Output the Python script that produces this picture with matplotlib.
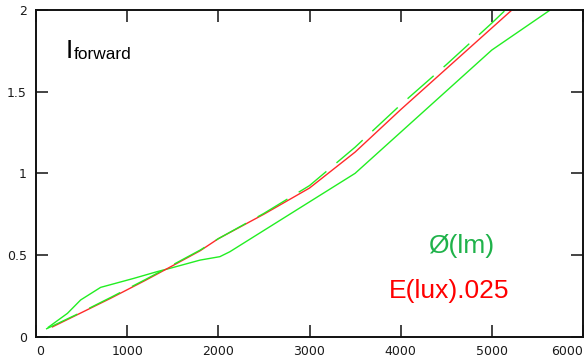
import matplotlib
matplotlib.use("Agg")
import matplotlib.pyplot as plt

# Luminous flux curve, Ø(lm)
flux_x = [128, 345, 490, 709, 1072, 1327, 1472, 1800, 2017, 2126, 3500, 5000, 5640]
flux_y = [0.055, 0.143, 0.225, 0.302, 0.357, 0.398, 0.419, 0.469, 0.49, 0.52, 1.0, 1.755, 2.0]

# Illuminance curve, E(lux)*.025
lux_x = [180, 472, 818, 1200, 1500, 1800, 2000, 2500, 3000, 3500, 4000, 4500, 5000, 5220]
lux_y = [0.06, 0.14, 0.235, 0.345, 0.435, 0.526, 0.60, 0.75, 0.91, 1.13, 1.39, 1.64, 1.89, 2.0]

# Second flux trace, drawn dashed
flux2_x = [110, 472, 818, 1200, 1500, 1800, 2000, 2500, 3000, 3500, 4000, 4500, 5000, 5150]
flux2_y = [0.047, 0.143, 0.24, 0.35, 0.44, 0.53, 0.60, 0.755, 0.925, 1.16, 1.42, 1.665, 1.92, 2.0]

x_ticks = [0, 1000, 2000, 3000, 4000, 5000, 6000]
y_ticks = [0, 0.5, 1, 1.5, 2]
y_tick_labels = ["0", "0.5", "1", "1.5", "2"]

fig = plt.figure(figsize=(5.87, 3.63), dpi=100)
ax = fig.add_axes([36 / 587, 1 - 336.7 / 363, (583 - 36) / 587, (336.7 - 10) / 363])

ax.plot(flux_x, flux_y, color="#22ee22", lw=1.0, solid_capstyle="butt")
ax.plot(lux_x, lux_y, color="#ff2a2a", lw=1.0)
ax.plot(flux2_x, flux2_y, color="#22ee22", lw=1.0, dashes=(25, 9.5))

ax.set_xlim(0, 6000)
ax.set_ylim(0, 2)

ax.set_xticks(x_ticks)
ax.set_xticklabels([str(v) for v in x_ticks])
ax.set_yticks(y_ticks)
ax.set_yticklabels(y_tick_labels)

ax.tick_params(axis="both", direction="in", length=8.6, width=1.1,
               labelsize=9, labelcolor="#1a1a1a", color="#111111",
               top=True, right=True)
ax.tick_params(axis="x", pad=6)
ax.tick_params(axis="y", pad=6.5)

# keep the end labels of the x axis inside the figure
xlabels = ax.get_xticklabels()
xlabels[0].set_horizontalalignment("left")
xlabels[-1].set_horizontalalignment("right")

for side in ["left", "bottom", "top", "right"]:
    ax.spines[side].set_linewidth(1.4)
    ax.spines[side].set_color("#111111")

sans = ["Liberation Sans", "DejaVu Sans"]
ax.text(320, 1.706, "I", fontsize=19, family=sans, color="black", va="baseline")
ax.text(412, 1.70, "forward", fontsize=12.4, family=sans, color="black", va="baseline")
ax.text(4304, 0.512, "Ø(lm)", fontsize=19, family=sans, color="#1fb24a", va="baseline")
ax.text(3871, 0.235, "E(lux).025", fontsize=19, family=sans, color="#ff0000", va="baseline")

fig.savefig("out.png", dpi=100)
